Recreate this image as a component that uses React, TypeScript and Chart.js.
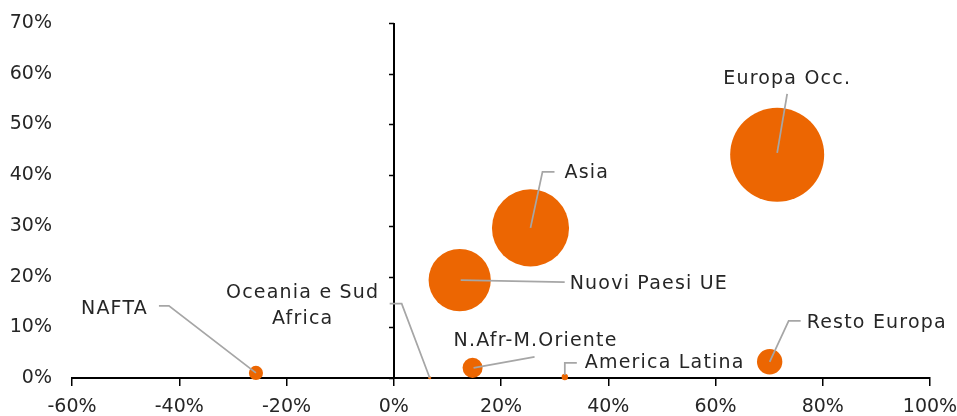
import React, { useEffect, useRef } from "react";
import { Chart, registerables } from "chart.js";

Chart.register(...registerables);

// ---- data ----
const regions = [
  "Europa Occ.",
  "Asia",
  "Nuovi Paesi UE",
  "NAFTA",
  "Oceania e Sud Africa",
  "N.Afr-M.Oriente",
  "America Latina",
  "Resto Europa",
];
const growth = [71.5, 25.5, 12.3, -25.7, 6.7, 14.7, 31.9, 70.1]; // x, %
const share = [44.0, 29.6, 19.3, 1.0, 0.05, 2.0, 0.2, 3.2]; // y, %
const bubbleSize = [44.0, 29.6, 19.3, 1.0, 0.05, 2.0, 0.2, 3.2];
const xTicks = [-60, -40, -20, 0, 20, 40, 60, 80, 100];
const yTicks = [0, 10, 20, 30, 40, 50, 60, 70];

// ---- label placement (pixel offsets from bubble centre) ----
type Layout = {
  lines: string[];
  dx: number;
  dy: number;
  align: CanvasTextAlign;
  leader: number[][];
};
const labelLayout: Layout[] = [
  { lines: ["Europa Occ."], dx: 10, dy: -76, align: "center", leader: [[0, -2], [10, -61]] },
  { lines: ["Asia"], dx: 34, dy: -55, align: "left", leader: [[0, 0], [12, -56], [24, -56]] },
  { lines: ["Nuovi Paesi UE"], dx: 110, dy: 4, align: "left", leader: [[1, 0], [105, 2]] },
  { lines: ["NAFTA"], dx: -108, dy: -64, align: "right", leader: [[-97, -67], [-87, -67], [0, 0]] },
  { lines: ["Oceania e Sud", "Africa"], dx: -127, dy: -85, align: "center", leader: [[-40, -74], [-28, -74], [0, 0]] },
  { lines: ["N.Afr-M.Oriente"], dx: -19, dy: -27, align: "left", leader: [[1, 0], [62, -11]] },
  { lines: ["America Latina"], dx: 20, dy: -14, align: "left", leader: [[0, -2], [0, -14], [12, -14]] },
  { lines: ["Resto Europa"], dx: 37, dy: -39, align: "left", leader: [[0, 0], [19, -41], [31, -41]] },
];

const FONT = "DejaVu Sans";
const TEXT_COLOR = "#262626";
const BUBBLE_COLOR = "#EC6602";
const LEADER_COLOR = "#A6A6A6";

export default function App() {
  const ref = useRef<HTMLCanvasElement>(null);

  useEffect(() => {
    const canvas = ref.current!;
    const rMax = 47;
    const maxSize = Math.max(...bubbleSize);
    const data = growth.map((x, i) => ({
      x,
      y: share[i],
      r: rMax * Math.sqrt(bubbleSize[i] / maxSize),
    }));

    const yAxisAtZero = {
      id: "yAxisAtZero",
      beforeDatasetsDraw(chart: any) {
        const { ctx, scales } = chart;
        const xs = scales.x;
        const ys = scales.y;
        const x0 = Math.round(xs.getPixelForValue(0));
        ctx.save();
        ctx.strokeStyle = "#000";
        ctx.lineWidth = 2;
        ctx.beginPath();
        ctx.moveTo(x0, ys.getPixelForValue(yTicks[yTicks.length - 1]));
        ctx.lineTo(x0, ys.getPixelForValue(0));
        ctx.stroke();
        ctx.lineWidth = 1.5;
        ctx.beginPath();
        yTicks.forEach((v) => {
          const py = Math.round(ys.getPixelForValue(v)) + 0.5;
          ctx.moveTo(x0 - 5, py);
          ctx.lineTo(x0, py);
        });
        ctx.stroke();
        ctx.restore();
      },
    };

    const labelsPlugin = {
      id: "bubbleLabels",
      afterDatasetsDraw(chart: any) {
        const { ctx } = chart;
        const meta = chart.getDatasetMeta(0);
        ctx.save();
        ctx.strokeStyle = LEADER_COLOR;
        ctx.lineWidth = 1.75;
        meta.data.forEach((el: any, i: number) => {
          const L = labelLayout[i];
          ctx.beginPath();
          L.leader.forEach((p, k) => {
            const px = el.x + p[0];
            const py = el.y + p[1];
            if (k === 0) ctx.moveTo(px, py);
            else ctx.lineTo(px, py);
          });
          ctx.stroke();
        });
        ctx.fillStyle = TEXT_COLOR;
        ctx.font = `19px "${FONT}"`;
        (ctx as any).letterSpacing = "1.2px";
        ctx.textBaseline = "middle";
        meta.data.forEach((el: any, i: number) => {
          const L = labelLayout[i];
          ctx.textAlign = L.align;
          L.lines.forEach((line, k) => {
            ctx.fillText(line, el.x + L.dx, el.y + L.dy + k * 26);
          });
        });
        (ctx as any).letterSpacing = "0px";
        ctx.restore();
      },
    };

    const tickFont = { family: FONT, size: 19 };
    const noPad = (s: any) => {
      s.paddingTop = 0;
      s.paddingBottom = 0;
      s.paddingLeft = 0;
      s.paddingRight = 0;
    };

    const chart = new Chart(canvas, {
      type: "bubble",
      data: {
        labels: regions,
        datasets: [
          {
            label: "Regioni",
            data,
            backgroundColor: BUBBLE_COLOR,
            borderWidth: 0,
            clip: false as any,
          } as any,
        ],
      },
      options: {
        animation: false,
        responsive: false,
        maintainAspectRatio: false,
        events: [],
        layout: { autoPadding: false, padding: { top: 23, right: 27, left: 0, bottom: 0 } },
        plugins: {
          legend: { display: false },
          tooltip: { enabled: false },
        },
        scales: {
          x: {
            type: "linear",
            position: "bottom",
            min: xTicks[0],
            max: xTicks[xTicks.length - 1],
            afterBuildTicks: (s: any) => {
              s.ticks = xTicks.map((v) => ({ value: v }));
            },
            afterFit: (s: any) => {
              s.height = 38;
              noPad(s);
            },
            ticks: {
              callback: (v: any) => v + "%",
              font: tickFont,
              color: TEXT_COLOR,
              padding: 10,
              maxRotation: 0,
              autoSkip: false,
            },
            grid: {
              drawOnChartArea: false,
              drawTicks: true,
              tickLength: 8,
              color: "#000",
              lineWidth: 1.5,
            },
            border: { display: true, color: "#000", width: 2 },
          },
          y: {
            type: "linear",
            position: "left",
            min: yTicks[0],
            max: yTicks[yTicks.length - 1],
            afterBuildTicks: (s: any) => {
              s.ticks = yTicks.map((v) => ({ value: v }));
            },
            afterFit: (s: any) => {
              s.width = 72;
              noPad(s);
            },
            ticks: {
              callback: (v: any) => v + "%",
              font: tickFont,
              color: TEXT_COLOR,
              padding: 20,
              autoSkip: false,
            },
            grid: { display: false, drawTicks: false },
            border: { display: false },
          },
        },
      } as any,
      plugins: [yAxisAtZero, labelsPlugin],
    });

    return () => chart.destroy();
  }, []);

  return (
    <div style={{ position: "fixed", left: 0, top: 0, width: 957, height: 416 }}>
      <canvas ref={ref} width={957} height={416} style={{ width: 957, height: 416, display: "block" }} />
    </div>
  );
}
